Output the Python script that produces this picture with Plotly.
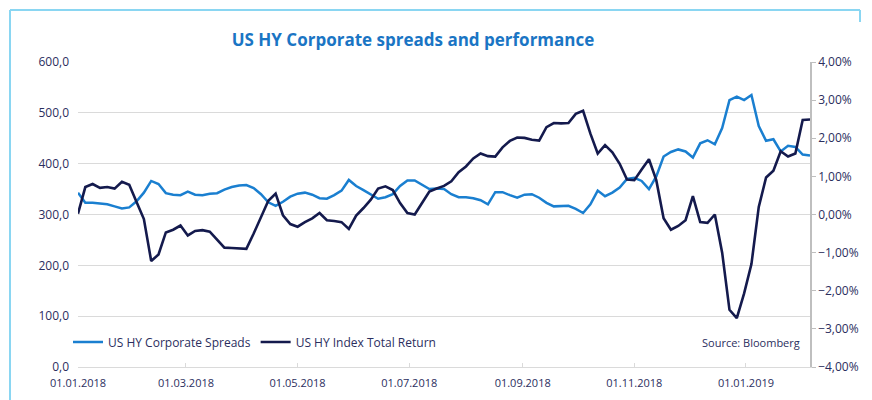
import pandas as pd
import plotly.graph_objects as go

# readings every 4 days from 01.01.2018
spreads = [
    343, 323, 323, 322, 320, 316, 312, 314, 326, 343,
    366, 360, 342, 339, 338, 345, 339, 338, 341, 342,
    349, 354, 357, 358, 352, 340, 324, 317, 325, 335,
    341, 343, 339, 332, 331, 338, 347, 368, 356, 348,
    339, 331, 334, 340, 356, 367, 367, 358, 350, 351,
    350, 340, 334, 334, 332, 328, 320, 344, 344, 338,
    333, 339, 340, 333, 323, 316, 317, 317, 311, 303,
    320, 347, 336, 343, 353, 370, 372, 366, 350, 375,
    414, 423, 428, 424, 412, 440, 446, 438, 470, 525,
    532, 525, 535, 474, 445, 448, 424, 435, 433, 418,
    416,
]
total_return = [
    0.02, 0.72, 0.80, 0.70, 0.72, 0.68, 0.86, 0.78, 0.33, -0.12,
    -1.22, -1.05, -0.47, -0.40, -0.29, -0.55, -0.43, -0.41, -0.45, -0.67,
    -0.87, -0.88, -0.89, -0.90, -0.50, -0.05, 0.36, 0.55, -0.02, -0.25,
    -0.32, -0.20, -0.10, 0.04, -0.15, -0.17, -0.20, -0.38, -0.03, 0.17,
    0.39, 0.68, 0.74, 0.64, 0.30, 0.04, 0.00, 0.30, 0.60, 0.68,
    0.75, 0.87, 1.11, 1.26, 1.47, 1.60, 1.53, 1.52, 1.76, 1.93,
    2.02, 2.01, 1.96, 1.94, 2.29, 2.40, 2.39, 2.40, 2.64, 2.72,
    2.12, 1.60, 1.82, 1.63, 1.33, 0.92, 0.90, 1.18, 1.45, 0.90,
    -0.10, -0.40, -0.30, -0.15, 0.48, -0.20, -0.22, 0.00, -1.00, -2.50,
    -2.72, -2.07, -1.30, 0.20, 0.97, 1.15, 1.66, 1.52, 1.60, 2.48,
    2.49,
]
dates = pd.date_range("2018-01-01", periods=len(spreads), freq="4D")

navy = "#141a4d"
blue = "#1a7fd0"
text_col = "#2b2e5e"
grid_col = "#dadada"
frame_col = "#8ad6f2"

# plot area in figure pixels (page has an 8 px body margin)
L, R, T, B = 70, 802, 54, 359
W, H = R - L, B - T

fig = go.Figure()
fig.add_trace(go.Scatter(
    x=dates, y=spreads, mode="lines", name="US HY Corporate Spreads",
    line=dict(color=blue, width=2.5),
))
fig.add_trace(go.Scatter(
    x=dates, y=total_return, mode="lines", name="US HY Index Total Return",
    line=dict(color=navy, width=2.6), yaxis="y2",
))

fig.update_layout(
    width=872, height=400,
    margin=dict(l=L, r=872 - R, t=T, b=400 - B, autoexpand=False),
    paper_bgcolor="white", plot_bgcolor="white",
    separators=",.",
    font=dict(family="Open Sans", color=text_col, size=12),
    title=dict(
        text="<b>US HY Corporate spreads and performance</b>",
        x=405 / 872, xanchor="center", y=1 - 32 / 400, yanchor="middle",
        font=dict(size=17, color="#1a75c4"),
    ),
    xaxis=dict(
        type="date", range=["2018-01-01", "2019-02-05"],
        tick0="2018-01-01", dtick="M2", tickformat="%d.%m.%Y",
        showgrid=False, showline=True, linecolor=grid_col,
        ticks="inside", ticklen=4, tickcolor=grid_col,
        tickfont=dict(size=11), ticklabelstandoff=6,
    ),
    yaxis=dict(
        range=[0, 600], dtick=100, tickformat=".1f",
        showgrid=True, gridcolor=grid_col, zeroline=False,
        showline=False, ticklabelstandoff=8,
    ),
    yaxis2=dict(
        overlaying="y", side="right", range=[-4, 4], dtick=1,
        tickformat=".2f", ticksuffix="%", showgrid=False, zeroline=False,
        showline=True, linecolor="#bfbfbf", linewidth=1.5,
        ticks="outside", ticklen=4, tickcolor="#bfbfbf",
    ),
    legend=dict(
        orientation="h", x=-10 / W, y=(B - 334) / H, xanchor="left", yanchor="middle",
        bgcolor="rgba(0,0,0,0)", font=dict(size=12, color=text_col),
        itemwidth=30,
    ),
    showlegend=True,
)

fig.add_annotation(
    text="Source: Bloomberg", xref="paper", yref="paper",
    x=(794 - L) / W, y=(B - 334) / H, xanchor="right", yanchor="middle",
    showarrow=False, font=dict(size=11, color=text_col),
)

# light blue frame: left and top edges, short stub on the right
frame = dict(type="line", xref="paper", yref="paper",
             line=dict(color=frame_col, width=2))
fig.add_shape(**frame, x0=(2 - L) / W, x1=(2 - L) / W, y0=(B - 430) / H, y1=(B - 2) / H)
fig.add_shape(**frame, x0=(2 - L) / W, x1=(852 - L) / W, y0=(B - 2) / H, y1=(B - 2) / H)
fig.add_shape(**frame, x0=(852 - L) / W, x1=(852 - L) / W, y0=(B - 2) / H, y1=(B - 14) / H)

fig.write_html("out.html")
